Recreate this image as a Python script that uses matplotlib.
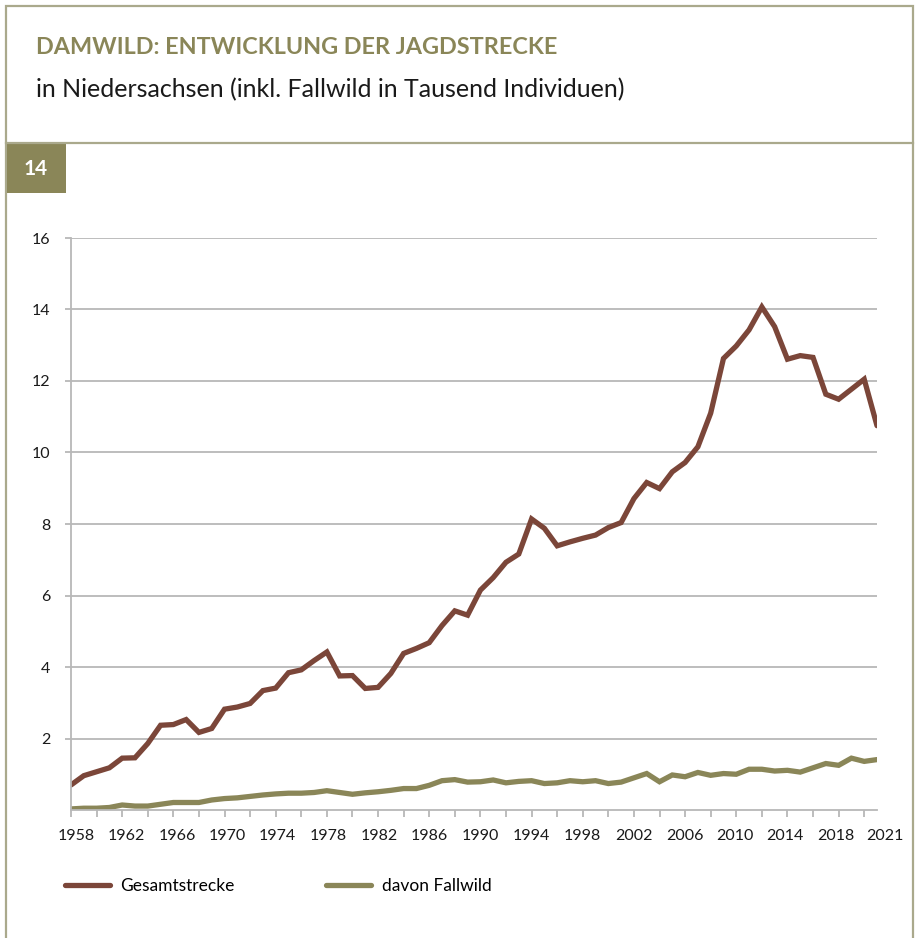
import matplotlib
matplotlib.use("Agg")
import matplotlib.pyplot as plt
from matplotlib.patches import Rectangle
from matplotlib.lines import Line2D
from matplotlib.transforms import ScaledTranslation

plt.rcParams['font.family'] = ['Lato', 'DejaVu Sans']

# Jagdstrecke Damwild Niedersachsen, in Tausend
years = list(range(1958, 2022))
gesamt = [0.70, 0.96, 1.07, 1.18, 1.45, 1.46, 1.86, 2.37, 2.39, 2.53,
          2.17, 2.28, 2.82, 2.88, 2.98, 3.34, 3.41, 3.84, 3.92, 4.18,
          4.42, 3.75, 3.76, 3.40, 3.43, 3.82, 4.38, 4.52, 4.68, 5.16,
          5.57, 5.45, 6.15, 6.50, 6.93, 7.16, 8.14, 7.88, 7.39, 7.50,
          7.60, 7.69, 7.90, 8.04, 8.71, 9.16, 8.99, 9.46, 9.72, 10.16,
          11.10, 12.63, 12.98, 13.43, 14.07, 13.52, 12.61, 12.71, 12.66, 11.63,
          11.49, 11.77, 12.05, 10.75]
fallwild = [0.03, 0.05, 0.05, 0.07, 0.14, 0.11, 0.11, 0.16, 0.21, 0.21,
            0.21, 0.28, 0.32, 0.34, 0.38, 0.42, 0.45, 0.47, 0.47, 0.49,
            0.54, 0.49, 0.44, 0.48, 0.51, 0.55, 0.60, 0.60, 0.69, 0.82,
            0.85, 0.78, 0.79, 0.84, 0.76, 0.80, 0.82, 0.74, 0.76, 0.82,
            0.79, 0.82, 0.74, 0.78, 0.90, 1.02, 0.79, 0.98, 0.93, 1.05,
            0.97, 1.02, 1.00, 1.14, 1.14, 1.09, 1.11, 1.06, 1.18, 1.30,
            1.25, 1.45, 1.36, 1.41]
yticks = [2, 4, 6, 8, 10, 12, 14, 16]
xlabel_years = [1958, 1962, 1966, 1970, 1974, 1978, 1982, 1986, 1990,
                1994, 1998, 2002, 2006, 2010, 2014, 2018, 2021]

c_brown = '#7b4639'
c_olive = '#8a8658'
c_frame = '#aaa98c'

W, H = 916, 938
fig = plt.figure(figsize=(W / 100, H / 100), dpi=100)

# frame and header
fig.add_artist(Rectangle((6 / W, -0.05), 907 / W, (H - 6) / H + 0.05, transform=fig.transFigure,
                         fill=False, edgecolor=c_frame, lw=1.6))
fig.add_artist(Line2D([6 / W, 913 / W], [1 - 143 / H] * 2, transform=fig.transFigure,
                      color=c_frame, lw=1.6))
fig.add_artist(Rectangle((7 / W, 1 - 193 / H), 59 / W, 50 / H, transform=fig.transFigure,
                         facecolor=c_olive, edgecolor='none'))
fig.text(36 / W, 1 - 169 / H, '14', color='white', fontsize=15, fontweight='bold',
         ha='center', va='center')
fig.text(36 / W, 1 - 47 / H, 'DAMWILD: ENTWICKLUNG DER JAGDSTRECKE', color=c_olive,
         fontsize=16.8, fontweight='bold', ha='left', va='center')
fig.text(36 / W, 1 - 90 / H, 'in Niedersachsen (inkl. Fallwild in Tausend Individuen)',
         color='#1a1a1a', fontsize=18, ha='left', va='center')

ax = fig.add_axes([71 / W, 1 - 810 / H, 806 / W, 572 / H])
ax.plot(years, gesamt, color=c_brown, lw=3.8, solid_capstyle='round',
        solid_joinstyle='miter', label='Gesamtstrecke')
ax.plot(years, fallwild, color=c_olive, lw=3.8, solid_capstyle='round',
        solid_joinstyle='miter', label='davon Fallwild')

ax.set_xlim(1958, 2021)
ax.set_ylim(0, 16)
ax.set_yticks(yticks)
ax.yaxis.grid(True, color='#b8b8b8', lw=1.3)
ax.set_axisbelow(True)
for s in ['top', 'right']:
    ax.spines[s].set_visible(False)
for s in ['left', 'bottom']:
    ax.spines[s].set_color('#b8b8b8')
    ax.spines[s].set_linewidth(1.3)
ax.tick_params(axis='y', length=4, width=1.3, color='#b8b8b8', pad=11, labelsize=11.5,
               labelcolor='#1a1a1a')

xt = list(range(1958, 2021, 2)) + [2021]
ax.set_xticks(xt)
ax.set_xticklabels([str(y) if y in xlabel_years else '' for y in xt])
ax.tick_params(axis='x', length=5, width=1.3, color='#b8b8b8', pad=9, labelsize=11.5,
               labelcolor='#1a1a1a')
ax.xaxis.get_major_ticks()[-1].tick1line.set_visible(False)
# small label offsets as in the original layout (pixels)
nudge = {1958: 5, 1962: 4, 1966: 4, 1970: 3, 1974: 2, 1978: 1, 1982: 1,
         2010: -1, 2014: -3, 2018: -3, 2021: 8}
for y, lab in zip(xt, ax.get_xticklabels()):
    if y in nudge:
        lab.set_transform(lab.get_transform() +
                          ScaledTranslation(nudge[y] / 100, 0, fig.dpi_scale_trans))

ax.legend(loc='center left', bbox_to_anchor=(65 / W, 1 - 886 / H),
          bbox_transform=fig.transFigure, ncol=2, frameon=False, fontsize=12.5,
          handlelength=2.6, handletextpad=0.6, columnspacing=5.25, borderaxespad=0,
          borderpad=0)

fig.savefig('out.png', dpi=100)
